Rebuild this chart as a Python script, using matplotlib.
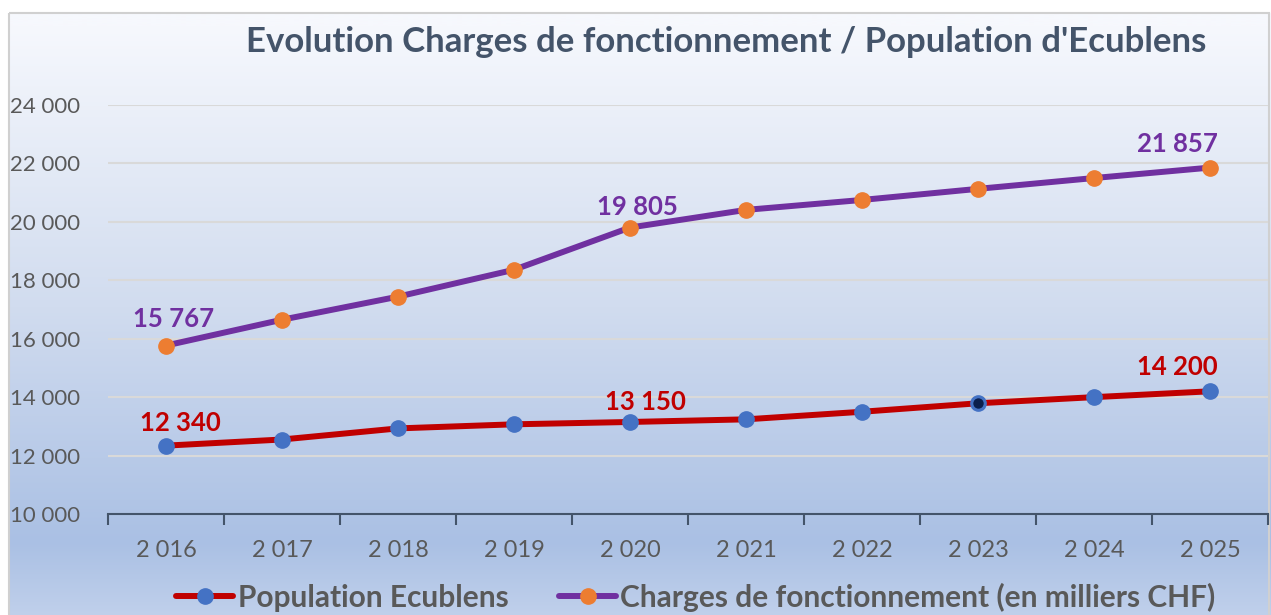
"""
Evolution Charges de fonctionnement / Population d'Ecublens
"""

import numpy as np
import matplotlib

matplotlib.use("Agg")
from matplotlib import pyplot as plt
from matplotlib.colors import to_rgb
from matplotlib.patches import Rectangle

# data
years = ["2 016", "2 017", "2 018", "2 019", "2 020",
         "2 021", "2 022", "2 023", "2 024", "2 025"]
population = [12340, 12550, 12930, 13070, 13150, 13240, 13500, 13790, 14000, 14200]
charges = [15767, 16650, 17440, 18360, 19805, 20410, 20750, 21130, 21500, 21857]
y_ticks = [10000, 12000, 14000, 16000, 18000, 20000, 22000, 24000]

# which points carry a value label, with label offset in pixels
pop_labels = {0: (14, 23), 4: (15, 20), 9: (-33, 24)}
chg_labels = {0: (8, 27), 4: (7, 21), 9: (-33, 24)}
highlight_pop = 7  # dark marker in the reference

FONT = "Lato"
GREY = "#595959"
SLATE = "#44546a"
RED = "#c00000"
PURPLE = "#7030a0"
BLUE = "#4472c4"
ORANGE = "#ed7d31"

W, H, DPI = 1271, 615, 100


def fmt(v):
    return f"{v:,}".replace(",", " ")


def px(x=None, y=None):
    """pixel -> figure fraction"""
    if x is not None:
        return x / W
    return 1 - y / H


def draw_background(fig):
    bg = fig.add_axes([0, 0, 1, 1], zorder=-10)
    bg.set_axis_off()
    stops_y = [13, 300, 540, 615]
    stops_c = [to_rgb(c) for c in ("#f6f8fd", "#d1dcef", "#aac0e4", "#c0d0eb")]
    rows = np.arange(H)
    img = np.zeros((H, 1, 3))
    for ch in range(3):
        img[:, 0, ch] = np.interp(rows, stops_y, [c[ch] for c in stops_c])
    bg.imshow(img, aspect="auto", extent=(9, W, H, 13), interpolation="bilinear")
    bg.set_xlim(0, W)
    bg.set_ylim(H, 0)
    bg.add_patch(Rectangle((9, 13), W - 11, H, fill=False,
                           edgecolor="#d0d0d0", linewidth=1.5))


def main():
    fig = plt.figure(figsize=(W / DPI, H / DPI), dpi=DPI)
    fig.patch.set_facecolor("white")
    draw_background(fig)

    left, right, top, bottom = 108, 1268, 105, 514
    ax = fig.add_axes([px(x=left), px(y=bottom), (right - left) / W, (bottom - top) / H])
    ax.set_facecolor("none")

    x = np.arange(len(years))
    ax.plot(x, population, color=RED, linewidth=4.3, marker="o", markersize=11,
            markerfacecolor=BLUE, markeredgecolor=BLUE, zorder=3,
            label="Population Ecublens", solid_capstyle="round")
    ax.plot(x, charges, color=PURPLE, linewidth=4.3, marker="o", markersize=11,
            markerfacecolor=ORANGE, markeredgecolor=ORANGE, zorder=3,
            label="Charges de fonctionnement (en milliers CHF)", solid_capstyle="round")
    ax.plot(x[highlight_pop], population[highlight_pop], "o", markersize=9,
            markerfacecolor="#0b1f4d", markeredgecolor=BLUE, markeredgewidth=1.5, zorder=4)

    for idx, (dx, dy) in pop_labels.items():
        ax.annotate(fmt(population[idx]), (x[idx], population[idx]), xytext=(dx, dy),
                    textcoords="offset pixels", ha="center", va="center",
                    color=RED, fontsize=18.5, fontweight="bold", family=FONT)
    for idx, (dx, dy) in chg_labels.items():
        ax.annotate(fmt(charges[idx]), (x[idx], charges[idx]), xytext=(dx, dy),
                    textcoords="offset pixels", ha="center", va="center",
                    color=PURPLE, fontsize=18.5, fontweight="bold", family=FONT)

    ax.set_xlim(-0.5, len(years) - 0.5)
    ax.set_ylim(y_ticks[0], y_ticks[-1])
    ax.set_yticks(y_ticks)
    ax.set_yticklabels([fmt(v) for v in y_ticks])
    ax.set_xticks(x)
    ax.set_xticklabels(years)
    ax.set_xticks(np.arange(len(years) + 1) - 0.5, minor=True)
    ax.tick_params(axis="x", which="major", length=0, pad=19,
                   labelsize=17, labelcolor=GREY)
    ax.tick_params(axis="x", which="minor", length=8, width=1.5, color=SLATE)
    ax.tick_params(axis="y", length=0, pad=20, labelsize=16, labelcolor=GREY)
    for lab in ax.get_xticklabels() + ax.get_yticklabels():
        lab.set_family(FONT)
    ax.grid(axis="y", color="#d9d9d9", linewidth=1.5, zorder=0)
    ax.set_axisbelow(True)
    for side in ("left", "right", "top"):
        ax.spines[side].set_visible(False)
    ax.spines["bottom"].set_color(SLATE)
    ax.spines["bottom"].set_linewidth(1.5)
    ax.spines["bottom"].set_zorder(5)

    fig.text(px(x=726), px(y=42),
             "Evolution Charges de fonctionnement / Population d'Ecublens",
             ha="center", va="center", color=SLATE, fontsize=25,
             fontweight="bold", family=FONT)

    fig.legend(loc="center", bbox_to_anchor=(px(x=696), px(y=597)), ncol=2,
               frameon=False, handlelength=1.9, handletextpad=0.15,
               columnspacing=1.7, prop={"family": FONT, "weight": "bold", "size": 21.5},
               labelcolor=GREY)

    fig.savefig("out.png", dpi=DPI)


if __name__ == "__main__":
    main()
